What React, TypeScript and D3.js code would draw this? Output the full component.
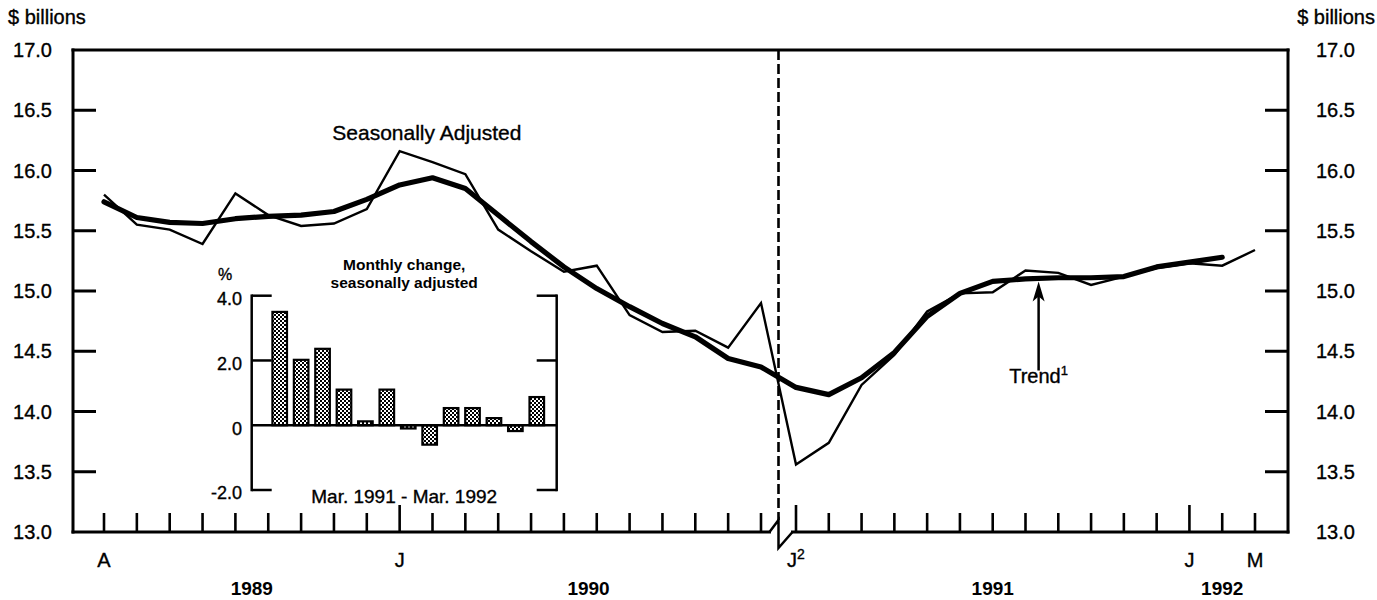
import React from "react";
import * as d3 from "d3";

// ---------- data ----------
const months = [
  "Apr 1989", "May 1989", "Jun 1989", "Jul 1989", "Aug 1989", "Sep 1989", "Oct 1989", "Nov 1989", "Dec 1989",
  "Jan 1990", "Feb 1990", "Mar 1990", "Apr 1990", "May 1990", "Jun 1990", "Jul 1990", "Aug 1990", "Sep 1990",
  "Oct 1990", "Nov 1990", "Dec 1990",
  "Jan 1991", "Feb 1991", "Mar 1991", "Apr 1991", "May 1991", "Jun 1991", "Jul 1991", "Aug 1991", "Sep 1991",
  "Oct 1991", "Nov 1991", "Dec 1991", "Jan 1992", "Feb 1992", "Mar 1992",
];

const seasonallyAdjusted = [
  15.80, 15.55, 15.51, 15.39, 15.81, 15.63, 15.54, 15.56, 15.68,
  16.16, 16.07, 15.97, 15.51, 15.33, 15.16, 15.21, 14.80, 14.66, 14.67, 14.53, 14.90,
  13.56, 13.74, 14.22, 14.47, 14.83, 14.98, 14.99, 15.17, 15.15, 15.05, 15.12, 15.19,
  15.23, 15.21, 15.34,
];

const trend = [
  15.74, 15.61, 15.57, 15.56, 15.60, 15.62, 15.63, 15.66, 15.76,
  15.88, 15.94, 15.85, 15.63, 15.41, 15.20, 15.02, 14.87, 14.73, 14.62, 14.44, 14.37,
  14.20, 14.14, 14.28, 14.49, 14.79, 14.98, 15.08, 15.10, 15.11, 15.11, 15.12, 15.20,
  15.24, 15.28,
];

const yTicks = [13.0, 13.5, 14.0, 14.5, 15.0, 15.5, 16.0, 16.5, 17.0];

const monthLabels = [
  { month: "Apr 1989", text: "A", sup: "" },
  { month: "Jan 1990", text: "J", sup: "" },
  { month: "Jan 1991", text: "J", sup: "2" },
  { month: "Jan 1992", text: "J", sup: "" },
  { month: "Mar 1992", text: "M", sup: "" },
];

const yearLabels = ["1989", "1990", "1991", "1992"];
const yearCenters = [4.5, 14.75, 27, 34];

const changeMonths = [
  "Mar 1991", "Apr 1991", "May 1991", "Jun 1991", "Jul 1991", "Aug 1991", "Sep 1991",
  "Oct 1991", "Nov 1991", "Dec 1991", "Jan 1992", "Feb 1992", "Mar 1992",
];
const monthlyChange = [3.5, 2.02, 2.36, 1.1, 0.12, 1.1, -0.1, -0.6, 0.53, 0.53, 0.22, -0.18, 0.87];
const insetTicks = [4, 2, 0, -2];
const insetTickLabels = ["4.0", "2.0", "0", "-2.0"];

// ---------- layout ----------
const W = 1377;
const H = 600;
const L = 73;
const R = 1288;
const T = 50;
const B = 532;
const FONT = "'Liberation Sans', Arial, Helvetica, sans-serif";
const TS = { stroke: "#000", strokeWidth: 0.35 } as const;

export default function App() {
  const idx = (m: string) => months.indexOf(m);
  const x = d3.scaleLinear().domain([0, 20, 21, 35]).range([104, 761, 796, 1255]);
  const y = d3.scaleLinear().domain([13, 17]).range([B, T]);

  const line = d3
    .line<number>()
    .x((_, i) => x(i))
    .y((d) => y(d));

  const xBreak = x(20.5);

  // inset scales
  const iL = 251.7;
  const iR = 556.7;
  const iy = d3.scaleLinear().domain([-2, 4]).range([490, 295.7]);
  const ix = d3
    .scaleBand<string>()
    .domain(changeMonths)
    .range([269, 547.5])
    .paddingInner(0.32)
    .paddingOuter(0.16);
  const iCenter = (iL + iR) / 2;

  // trend annotation
  const arrowIdx = 28.4;
  const arrowX = x(arrowIdx);
  const trendAt = trend[28] + (trend[29] - trend[28]) * 0.4;
  const arrowTip = y(trendAt) + 3;
  const arrowBase = y(14.34);

  return (
    <svg
      width={W}
      height={H}
      style={{ position: "absolute", left: 0, top: 0, background: "#fff" }}
      fontFamily={FONT}
    >
      <defs>
        <pattern id="stipple" width="4" height="4" patternUnits="userSpaceOnUse">
          <rect width="4" height="4" fill="#fff" />
          <rect x="0" y="0" width="2" height="2" fill="#000" />
          <rect x="2" y="2" width="2" height="2" fill="#000" />
        </pattern>
      </defs>
      <rect width={W} height={H} fill="#fff" />

      {/* axis titles */}
      <text x={8} y={24} fontSize={20} fill="#000" {...TS}>$ billions</text>
      <text x={1375} y={24} fontSize={20} fill="#000" textAnchor="end" {...TS}>$ billions</text>

      {/* y tick labels */}
      {yTicks.map((v) => (
        <g key={v}>
          <text x={52} y={y(v)} dy="0.36em" fontSize={20} textAnchor="end" fill="#000" {...TS}>
            {v.toFixed(1)}
          </text>
          <text x={1316} y={y(v)} dy="0.36em" fontSize={20} textAnchor="start" fill="#000" {...TS}>
            {v.toFixed(1)}
          </text>
          {v > 13 && v < 17 && (
            <>
              <line x1={L} x2={L + 23} y1={y(v)} y2={y(v)} stroke="#000" strokeWidth={3} />
              <line x1={R - 23} x2={R} y1={y(v)} y2={y(v)} stroke="#000" strokeWidth={3} />
            </>
          )}
        </g>
      ))}

      {/* frame */}
      <line x1={L} x2={R} y1={T} y2={T} stroke="#000" strokeWidth={3} strokeLinecap="square" />
      <line x1={L} x2={L} y1={T} y2={B} stroke="#000" strokeWidth={3} strokeLinecap="square" />
      <line x1={R} x2={R} y1={T} y2={B} stroke="#000" strokeWidth={3} strokeLinecap="square" />
      <line x1={L} x2={xBreak - 9} y1={B} y2={B} stroke="#000" strokeWidth={3} strokeLinecap="square" />
      <line x1={xBreak + 14} x2={R} y1={B} y2={B} stroke="#000" strokeWidth={3} strokeLinecap="square" />
      <path
        d={`M${xBreak - 9},${B} L${xBreak},${B - 12} L${xBreak},${B + 16} L${xBreak + 14},${B}`}
        fill="none"
        stroke="#000"
        strokeWidth={2.5}
        strokeLinejoin="miter"
      />

      {/* x ticks */}
      {months.map((m, i) => {
        const tall = m.startsWith("Jan");
        return (
          <line
            key={m}
            x1={x(i)}
            x2={x(i)}
            y1={B}
            y2={B - (tall ? 27 : 19)}
            stroke="#000"
            strokeWidth={2.6}
          />
        );
      })}

      {/* month labels */}
      {monthLabels.map((d) => (
        <text key={d.month} x={x(idx(d.month))} y={567} fontSize={20} textAnchor="middle" fill="#000" {...TS}>
          {d.text}
          {d.sup && (
            <tspan fontSize={14} dy={-8}>
              {d.sup}
            </tspan>
          )}
        </text>
      ))}

      {/* year labels */}
      {yearLabels.map((yr, k) => (
        <text key={yr} x={x(yearCenters[k])} y={595} fontSize={19} fontWeight="bold" textAnchor="middle" fill="#000">
          {yr}
        </text>
      ))}

      {/* break (dashed) line */}
      <line x1={xBreak} x2={xBreak} y1={T} y2={B - 12} stroke="#000" strokeWidth={2.6} strokeDasharray="10 4" />

      {/* inset */}
      <g>
        <text x={iCenter} y={270} fontSize={15.5} fontWeight="bold" textAnchor="middle" fill="#000">
          Monthly change,
        </text>
        <text x={iCenter} y={288} fontSize={15.5} fontWeight="bold" textAnchor="middle" fill="#000">
          seasonally adjusted
        </text>
        <text x={225} y={280} fontSize={16} textAnchor="middle" fill="#000" {...TS}>%</text>
        {insetTicks.map((t, k) => (
          <g key={t}>
            <text x={242} y={iy(t) + 3} dy="0.36em" fontSize={18} textAnchor="end" fill="#000" {...TS}>
              {insetTickLabels[k]}
            </text>
            {t !== 0 && (
              <>
                <line x1={iL} x2={iL + 20} y1={iy(t)} y2={iy(t)} stroke="#000" strokeWidth={2.5} />
                <line x1={iR - 20} x2={iR} y1={iy(t)} y2={iy(t)} stroke="#000" strokeWidth={2.5} />
              </>
            )}
          </g>
        ))}
        <line x1={iL} x2={iL} y1={iy(4)} y2={iy(-2)} stroke="#000" strokeWidth={2.5} strokeLinecap="square" />
        <line x1={iR} x2={iR} y1={iy(4)} y2={iy(-2)} stroke="#000" strokeWidth={2.5} strokeLinecap="square" />
        {monthlyChange.map((v, k) => {
          const m = changeMonths[k];
          const y0 = iy(Math.max(0, v));
          const y1 = iy(Math.min(0, v));
          return (
            <rect
              key={m}
              x={ix(m)}
              y={y0}
              width={ix.bandwidth()}
              height={Math.max(1, y1 - y0)}
              fill="url(#stipple)"
              stroke="#000"
              strokeWidth={2.2}
            />
          );
        })}
        <line x1={iL} x2={iR} y1={iy(0)} y2={iy(0)} stroke="#000" strokeWidth={2.5} />
        <text x={iCenter} y={503} fontSize={19} textAnchor="middle" fill="#000" {...TS}>
          Mar. 1991 - Mar. 1992
        </text>
      </g>

      {/* series */}
      <path d={line(trend) || ""} fill="none" stroke="#000" strokeWidth={5.2} strokeLinejoin="round" strokeLinecap="round" />
      <path d={line(seasonallyAdjusted) || ""} fill="none" stroke="#000" strokeWidth={2.4} strokeLinejoin="miter" />

      {/* annotations */}
      <text x={x(6.95)} y={y(16.25)} fontSize={21} fill="#000" {...TS}>Seasonally Adjusted</text>
      <line x1={arrowX} x2={arrowX} y1={arrowBase} y2={arrowTip + 14} stroke="#000" strokeWidth={2.5} />
      <path
        d={`M${arrowX},${arrowTip} L${arrowX - 6},${arrowTip + 20} L${arrowX},${arrowTip + 15} L${arrowX + 6},${arrowTip + 20} Z`}
        fill="#000"
      />
      <text x={arrowX} y={y(14.24)} fontSize={20} textAnchor="middle" fill="#000" {...TS}>
        Trend
        <tspan fontSize={13} dy={-8}>1</tspan>
      </text>
    </svg>
  );
}
